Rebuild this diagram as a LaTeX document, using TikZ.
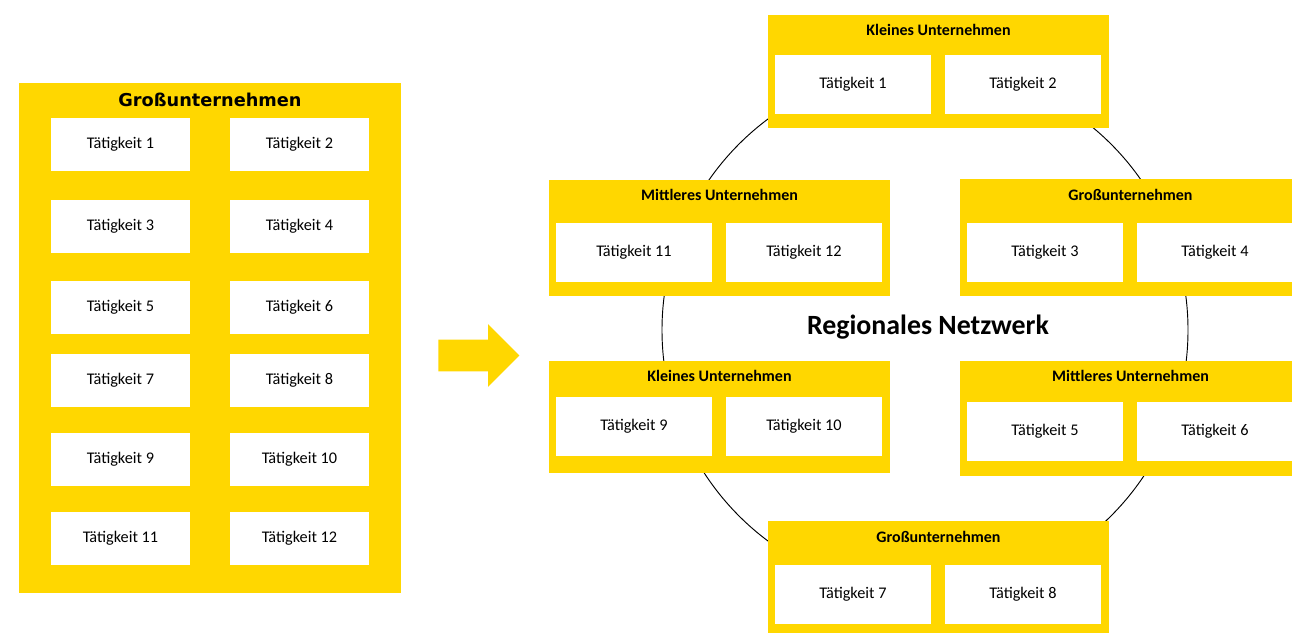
\documentclass[tikz,border=0pt]{standalone}
\usepackage{fontspec}
\setmainfont{Carlito}
\newfontfamily\titelfont{DejaVu Sans}
\usetikzlibrary{positioning,fit,shapes.arrows}
\definecolor{gelb}{RGB}{255,215,0}
\def\radius{263}
\def\breite{341}
\tikzstyle{firma}  = [fill=gelb, inner sep=0pt]
\tikzstyle{taetig} = [fill=white, minimum width=117pt, minimum height=44.25pt, inner sep=0pt, font=\fontsize{12.2}{14}\selectfont]
\tikzstyle{klein}  = [taetig, minimum width=104.25pt, minimum height=39.75pt]
\tikzstyle{titel}  = [font=\fontsize{12}{14}\selectfont\bfseries]

\begin{document}
\begin{tikzpicture}[x=0.75pt,y=-0.75pt]
	\useasboundingbox (0,0) rectangle (1292,632);
	\clip (0,0) rectangle (1292,632);
	% Netzwerk
	\draw[line width=0.7pt] (925,330) circle (\radius);
	\node[font=\fontsize{20.9}{24}\selectfont\bfseries] (netz) at (928,327) {Regionales Netzwerk};
	% Grossunternehmen links
	\node[firma, fit={(19,83) (401,593)}] (gross) {};
	\node[font=\titelfont\fontsize{13.3}{16}\selectfont\bfseries] (grosstitel) at (210,100) {Großunternehmen};
	\foreach \i/\y in {1/144.5,3/226.5,5/307.5,7/380.5,9/459.5,11/538.5}{
			\pgfmathtruncatemacro\j{\i+1}
			\node[klein] (l\i) at (120.5,\y) {Tätigkeit \i};
			\node[klein] (l\j) at (299.5,\y) {Tätigkeit \j};
		}
	% Pfeil
	\node[single arrow, fill=gelb, anchor=tail, inner xsep=0pt, inner ysep=11.625pt,
		single arrow head extend=11.625pt, minimum height=60.75pt] (pfeil) at (438,355.5) {};
	% Unternehmen im Netzwerk
	\foreach \n/\x/\ya/\yb/\t/\ty/\iy/\a/\b in {
			k1/768/15/128/Kleines Unternehmen/30/84.5/1/2,
			m1/549/180/296/Mittleres Unternehmen/195/252.5/11/12,
			g1/960/179/296/Großunternehmen/195/252.5/3/4,
			k2/549/361/473/Kleines Unternehmen/376/426.5/9/10,
			m2/960/361/476/Mittleres Unternehmen/376/431.5/5/6,
			g2/768/521/640/Großunternehmen/537/594.5/7/8}{
			\node[firma, fit={(\x,\ya) (\x+\breite,\yb)}] (\n) {};
			\node[titel] (\n-titel) at (\x+170.5,\ty) {\t};
			\node[taetig] (\n-a) at (\x+85,\iy) {Tätigkeit \a};
			\node[taetig] (\n-b) at (\x+255,\iy) {Tätigkeit \b};
		}
\end{tikzpicture}
\end{document}
